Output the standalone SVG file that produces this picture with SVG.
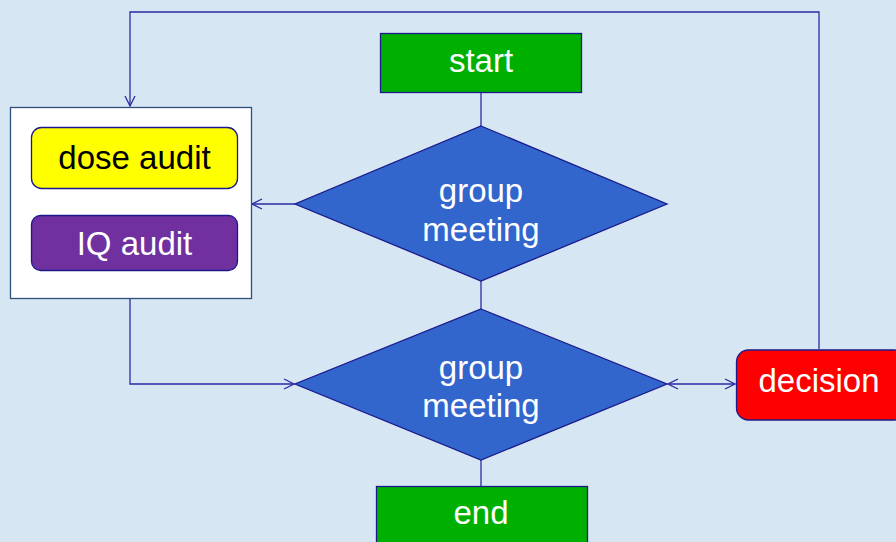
<svg xmlns="http://www.w3.org/2000/svg" width="896" height="542" viewBox="0 0 896 542">
<defs>
<style>
.t{font-family:"Liberation Sans",Arial,sans-serif;font-size:33px;text-anchor:middle;fill:#fff}
.k{fill:#000}
.c{fill:none;stroke:#2b2ba3;stroke-width:1.3}
.n{stroke:#1a1a8c;stroke-width:1.3}
</style>
<marker id="a" viewBox="0 0 12 12" refX="11" refY="6" markerWidth="12" markerHeight="12" markerUnits="userSpaceOnUse" orient="auto-start-reverse">
<path d="M1,1 L11,6 L1,11" fill="none" stroke="#2b2ba3" stroke-width="1.3"/>
</marker>
</defs>
<rect width="896" height="542" fill="#d6e7f3"/>
<g id="connectors">
<path class="c" d="M819,349 V12 H130 V106" marker-end="url(#a)"/>
<path class="c" d="M481,92 V126"/>
<path class="c" d="M295,204 H252" marker-end="url(#a)"/>
<path class="c" d="M481,281 V309"/>
<path class="c" d="M130,299 V384 H294" marker-end="url(#a)"/>
<path class="c" d="M668,384 H735" marker-start="url(#a)" marker-end="url(#a)"/>
<path class="c" d="M481,460 V486"/>
</g>
<g id="container">
<rect x="10.5" y="107.5" width="241" height="191" fill="#fff" stroke="#2f4f7f" stroke-width="1.3"/>
</g>
<g id="dose-audit">
<rect x="31.5" y="127.5" width="206" height="61" rx="10" fill="#ffff00" class="n"/>
<text class="t k" x="134.5" y="169">dose audit</text>
</g>
<g id="iq-audit">
<rect x="31.5" y="215.5" width="206" height="55" rx="9" fill="#7030a0" class="n"/>
<text class="t" x="134.5" y="255">IQ audit</text>
</g>
<g id="start">
<rect x="380.5" y="33.5" width="201" height="59" fill="#00b000" class="n"/>
<text class="t" x="481" y="72">start</text>
</g>
<g id="meeting1">
<polygon points="481,126 667,204 481,281 295,204" fill="#3366cc" class="n"/>
<text class="t" x="481" y="202">group</text>
<text class="t" x="481" y="241">meeting</text>
</g>
<g id="meeting2">
<polygon points="481,309 667,384 481,460 295,384" fill="#3366cc" class="n"/>
<text class="t" x="481" y="379">group</text>
<text class="t" x="481" y="417">meeting</text>
</g>
<g id="decision">
<rect x="736.5" y="350" width="170" height="70" rx="12" fill="#ff0000" class="n"/>
<text class="t" x="819" y="392">decision</text>
</g>
<g id="end">
<rect x="376.5" y="486.5" width="211" height="70" fill="#00b000" class="n"/>
<text class="t" x="481" y="524">end</text>
</g>
</svg>
